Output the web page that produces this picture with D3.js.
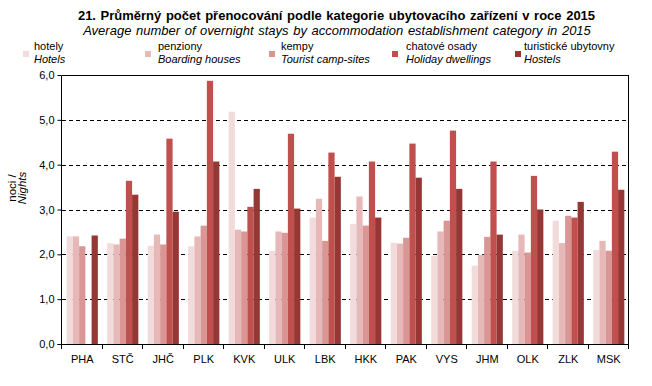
<!DOCTYPE html>
<html>
<head>
<meta charset="utf-8">
<script src="https://cdn.jsdelivr.net/npm/d3@7"></script>
<style>
  body { margin: 0; background: #fff; }
  text { font-family: "Liberation Sans", Arial, sans-serif; }
</style>
</head>
<body>
<svg width="652" height="386"></svg>
<script>
const regions = ["PHA", "STČ", "JHČ", "PLK", "KVK", "ULK", "LBK", "HKK", "PAK", "VYS", "JHM", "OLK", "ZLK", "MSK"];
const seriesCz = ["hotely", "penziony", "kempy", "chatové osady", "turistické ubytovny"];
const seriesEn = ["Hotels", "Boarding houses", "Tourist camp-sites", "Holiday dwellings", "Hostels"];
const colors = ["#f2dcdb", "#e6b9b8", "#d99694", "#c0504d", "#953735"];

const hotels   = [2.40, 2.25, 2.19, 2.18, 5.18, 2.08, 2.82, 2.68, 2.26, 1.97, 1.75, 2.08, 2.75, 2.10];
const boarding = [2.40, 2.22, 2.44, 2.40, 2.55, 2.51, 3.24, 3.29, 2.24, 2.51, 1.99, 2.44, 2.25, 2.30];
const camps    = [2.18, 2.35, 2.22, 2.64, 2.51, 2.48, 2.30, 2.64, 2.37, 2.75, 2.39, 2.04, 2.86, 2.08];
const dwell    = [null, 3.64, 4.58, 5.87, 3.06, 4.69, 4.27, 4.07, 4.47, 4.76, 4.07, 3.75, 2.82, 4.29];
const hostels  = [2.42, 3.33, 2.95, 4.07, 3.46, 3.02, 3.73, 2.82, 3.71, 3.46, 2.44, 3.00, 3.17, 3.44];
const yTicks = [0, 1, 2, 3, 4, 5, 6];

const values = [hotels, boarding, camps, dwell, hostels];

const svg = d3.select("svg");
const margin = { top: 75, right: 23, bottom: 42, left: 62 };
const width = 652 - margin.left - margin.right;
const height = 386 - margin.top - margin.bottom;

// title
svg.append("text")
  .attr("x", 336.5).attr("y", 20)
  .attr("text-anchor", "middle")
  .style("font-size", "13px").style("font-weight", "bold").style("word-spacing", "1px")
  .text("21. Průměrný počet přenocování podle kategorie ubytovacího zařízení v roce 2015");
svg.append("text")
  .attr("x", 337).attr("y", 35)
  .attr("text-anchor", "middle")
  .style("font-size", "13px").style("font-style", "italic").style("word-spacing", "1px")
  .text("Average number of overnight stays by accommodation establishment category in 2015");

// legend
const swatchX = [23, 145, 269, 392, 515];
const labelX = [34, 158, 281, 406, 524];
seriesCz.forEach((s, i) => {
  svg.append("rect").attr("x", swatchX[i]).attr("y", 51).attr("width", 6).attr("height", 6).attr("fill", colors[i]);
  svg.append("text").attr("x", labelX[i]).attr("y", 50).style("font-size", "11px").text(s);
  svg.append("text").attr("x", labelX[i]).attr("y", 62.5).style("font-size", "11px")
    .style("font-style", "italic").text(seriesEn[i]);
});

const plot = svg.append("g").attr("transform", `translate(${margin.left},${margin.top})`);

const x = d3.scaleBand().domain(regions).range([0, width]).paddingInner(0.23).paddingOuter(0.115);
const xs = d3.scaleBand().domain(d3.range(5)).range([0, x.bandwidth()]);
const y = d3.scaleLinear().domain([0, 6]).range([height, 0]);

// grid
plot.selectAll(".grid")
  .data(yTicks.filter(t => t > 0 && t < 6))
  .enter().append("line")
  .attr("x1", 0).attr("x2", width)
  .attr("y1", d => Math.round(y(d)) + 0.5).attr("y2", d => Math.round(y(d)) + 0.5)
  .attr("stroke", "#000").attr("stroke-dasharray", "4,3");

// bars
regions.forEach((r, ri) => {
  values.forEach((vals, si) => {
    const v = vals[ri];
    if (v == null) return;
    plot.append("rect")
      .attr("x", x(r) + xs(si))
      .attr("y", y(v))
      .attr("width", xs.bandwidth())
      .attr("height", height - y(v))
      .attr("fill", colors[si]);
  });
});

// frame
plot.append("line").attr("x1", 0).attr("x2", width).attr("y1", 0.5).attr("y2", 0.5).attr("stroke", "#000");
plot.append("line").attr("x1", width - 0.5).attr("x2", width - 0.5).attr("y1", 0).attr("y2", height).attr("stroke", "#000");

// y axis
const yAxis = plot.append("g")
  .attr("transform", "translate(-0.5,0)")
  .call(d3.axisLeft(y).tickValues(yTicks).tickSize(4).tickPadding(3)
    .tickFormat(d => d3.format(".1f")(d).replace(".", ",")));
yAxis.selectAll("text").style("font-size", "11px").style("font-family", "Liberation Sans, Arial, sans-serif").attr("fill", "#000");
yAxis.select(".domain").attr("d", `M-4,${height + 0.5}H0V0.5`);

// x axis
const xAxis = plot.append("g").attr("transform", `translate(0,${height})`);
xAxis.append("line").attr("x1", 0).attr("x2", width).attr("y1", 0.5).attr("y2", 0.5).attr("stroke", "#000");
xAxis.selectAll(".sep")
  .data(d3.range(regions.length + 1))
  .enter().append("line")
  .attr("x1", i => Math.round(i * width / regions.length) - 0.5)
  .attr("x2", i => Math.round(i * width / regions.length) - 0.5)
  .attr("y1", 0).attr("y2", 5)
  .attr("stroke", "#000");
xAxis.selectAll(".lab")
  .data(regions)
  .enter().append("text")
  .attr("x", d => x(d) + x.bandwidth() / 2)
  .attr("y", 19)
  .attr("text-anchor", "middle")
  .style("font-size", "11px")
  .text(d => d);

// y title
const yt = svg.append("text")
  .attr("transform", "translate(16,188) rotate(-90)")
  .attr("text-anchor", "middle")
  .style("font-size", "11.5px");
yt.append("tspan").attr("x", 0).attr("dy", 0).text("noci /");
yt.append("tspan").attr("x", 0).attr("dy", 10).style("font-style", "italic").text("Nights");
</script>
</body>
</html>
